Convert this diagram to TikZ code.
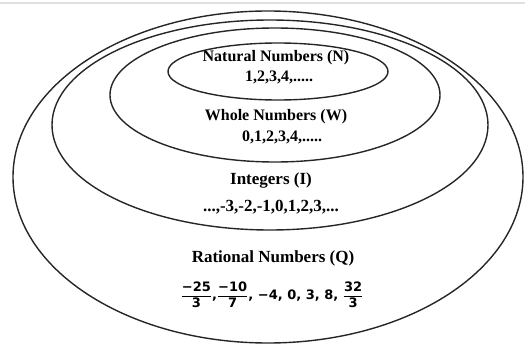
\documentclass[tikz,border=0pt]{standalone}
\usepackage{fontspec}
\setmainfont{Liberation Serif}
\newfontfamily\fracfont{DejaVu Sans}
\tikzset{
    setline/.style={line width=1.4pt,black!85},
    setname/.style={font=\bfseries\fontsize{16}{18}\selectfont,inner sep=0pt},
    setnums/.style={font=\bfseries\fontsize{16}{18}\selectfont,inner sep=0pt},
}
\newcommand{\qfrac}[2]{$\displaystyle\frac{\hbox{\fracfont\bfseries #1}}{\hbox{\fracfont\bfseries #2}}$}
\begin{document}
\begin{tikzpicture}[x=1pt,y=-1pt]
    \useasboundingbox (0,0) rectangle (525,345);
    \draw[black!12,line width=1.2pt] (0,3)--(525,3);

    % the four sets, outer to inner
    \draw[setline] (268,177) ellipse [x radius=255, y radius=166];
    \draw[setline] (270,125) ellipse [x radius=218, y radius=105];
    \draw[setline] (275,95) ellipse [x radius=165, y radius=67];
    \draw[setline] (278,71.5) ellipse [x radius=110, y radius=28.5];

    \node[setname] (natname) at (276,58) {Natural Numbers (N)};
    \node[setnums] (natnums) at (279,77) {1,2,3,4,.....};

    \node[setname] (wholename) at (276,117) {Whole Numbers (W)};
    \node[setnums] (wholenums) at (282,137) {0,1,2,3,4,.....};

    \node[setname,font=\bfseries\fontsize{17}{19}\selectfont] (intname) at (271,180) {Integers (I)};
    \node[setnums,font=\bfseries\fontsize{17}{19}\selectfont] (intnums) at (271,207) {...,-3,-2,-1,0,1,2,3,...};

    \node[setname,font=\bfseries\fontsize{17}{19}\selectfont] (ratname) at (273,258) {Rational Numbers (Q)};
    \node[inner sep=0pt,font=\fontsize{13}{15}\selectfont] (ratnums) at (272,295)
        {\qfrac{−25}{3}\hbox{\fracfont\bfseries ,}\qfrac{−10}{7}\hbox{\fracfont\bfseries , −4, 0, 3, 8, }\qfrac{32}{3}};
\end{tikzpicture}
\end{document}
